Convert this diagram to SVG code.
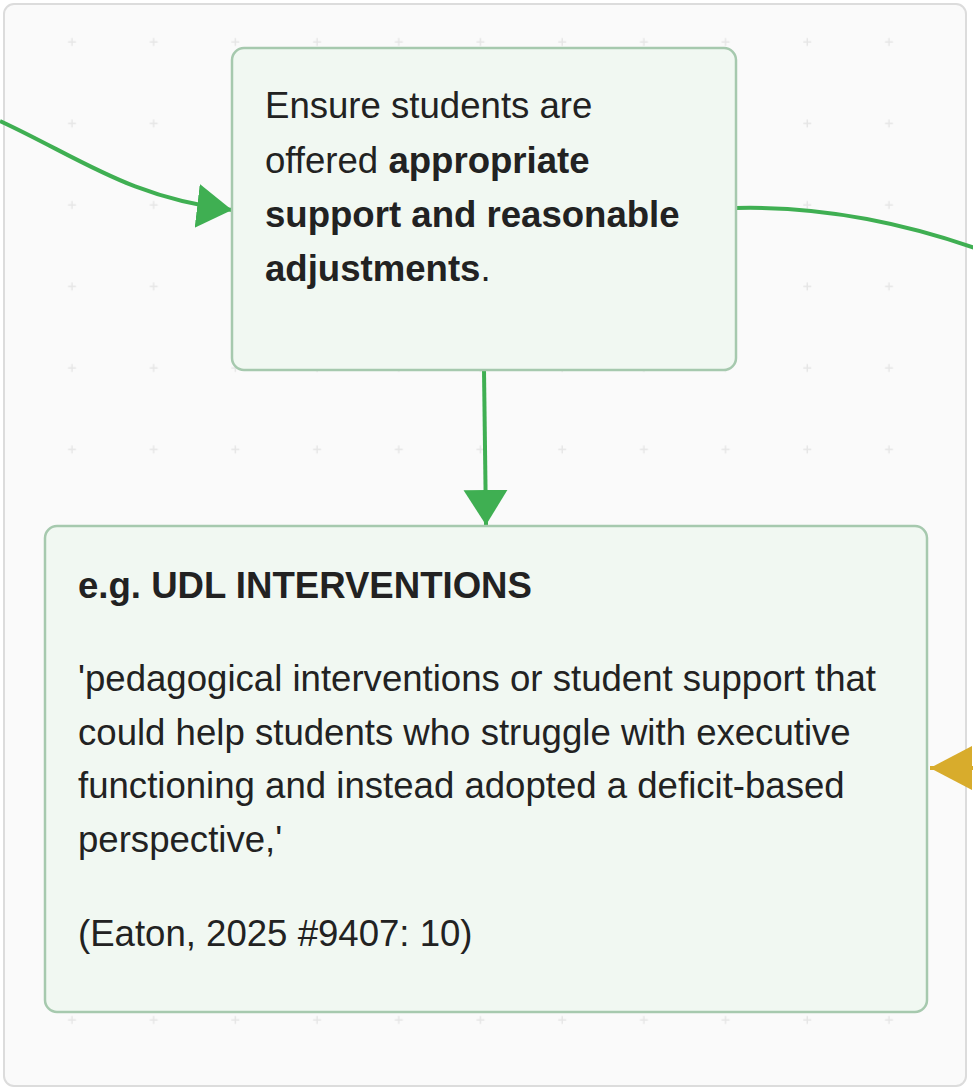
<svg xmlns="http://www.w3.org/2000/svg" width="973" height="1089" viewBox="0 0 973 1089">
<style>
.node{fill:#f1f8f2;stroke:#a6c9ae;stroke-width:2.5}
.t{font-family:"Liberation Sans",Arial,sans-serif;font-size:36.6px;fill:#222}
.b{font-weight:bold}
.g{fill:none;stroke:#3faf52;stroke-width:4}
.y{fill:none;stroke:#d8ac2c;stroke-width:4}
</style>
<defs>
<pattern id="grid" patternUnits="userSpaceOnUse" x="0" y="0" width="81.7" height="81.5">
<path d="M72 38v8M68 42h8" stroke="#e6e6e6" stroke-width="1.5" fill="none"/>
</pattern>
<marker id="ag" markerUnits="userSpaceOnUse" markerWidth="40" markerHeight="46" refX="35" refY="22" orient="auto">
<path d="M0 0L35 22L0 44Z" fill="#3faf52"/>
</marker>
<marker id="ay" markerUnits="userSpaceOnUse" markerWidth="50" markerHeight="46" refX="42" refY="22" orient="auto">
<path d="M0 0L42 22L0 44Z" fill="#d8ac2c"/>
</marker>
</defs>
<rect x="0" y="0" width="973" height="1089" fill="#ffffff"/>
<rect x="4" y="4" width="962" height="1082" rx="10" fill="#fafafa" stroke="#dcdcdc" stroke-width="2"/>
<rect x="5" y="5" width="960" height="1080" fill="url(#grid)"/>
<g id="connectors">
<path class="g" d="M0 121C80 158 130 198 232 210" marker-end="url(#ag)"/>
<path class="g" d="M736 208C820 206 900 222 975 248"/>
<path class="g" d="M484 370L486 525" marker-end="url(#ag)"/>
<path class="y" d="M990 768L930 768" marker-end="url(#ay)"/>
</g>
<g id="node-support">
<rect class="node" x="232" y="48" width="504" height="322" rx="12"/>
<text class="t" x="265" y="118">Ensure students are</text>
<text class="t" x="265" y="173">offered <tspan class="b">appropriate</tspan></text>
<text class="t b" x="265" y="227">support and reasonable</text>
<text class="t" x="265" y="281"><tspan class="b">adjustments</tspan>.</text>
</g>
<g id="node-udl">
<rect class="node" x="45" y="526" width="882" height="486" rx="12"/>
<text class="t b" x="78" y="598">e.g. UDL INTERVENTIONS</text>
<text class="t" x="78" y="691">'pedagogical interventions or student support that</text>
<text class="t" x="78" y="745">could help students who struggle with executive</text>
<text class="t" x="78" y="798">functioning and instead adopted a deficit-based</text>
<text class="t" x="78" y="852">perspective,'</text>
<text class="t" x="78" y="946">(Eaton, 2025 #9407: 10)</text>
</g>
</svg>
